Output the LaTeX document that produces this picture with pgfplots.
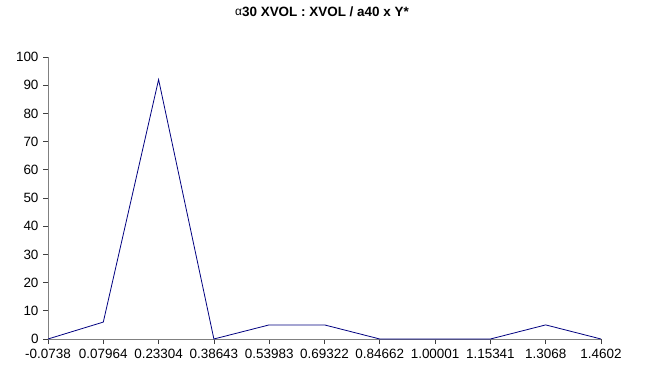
\documentclass[border=0pt]{standalone}
\usepackage{pgfplots}
\pgfplotsset{compat=1.18}
\usepackage{fontspec}
\setmainfont{Liberation Sans}
\definecolor{navy}{RGB}{0,0,128}
\definecolor{axgray}{RGB}{128,128,128}
\begin{document}
\begin{tikzpicture}
\path[use as bounding box] (-48bp,-33bp) rectangle (599bp,339bp);
\begin{axis}[
  at={(0,0)}, anchor=south west,
  scale only axis, width=553bp, height=282bp,
  xmin=0, xmax=10, ymin=0, ymax=100,
  axis x line=bottom, axis y line=left,
  axis line style={-, axgray, line width=0.9pt},
  tick style={black!75, line width=0.8pt},
  tick align=outside, major tick length=5bp,
  xtick={0,...,10},
  xticklabels={-0.0738,0.07964,0.23304,0.38643,0.53983,0.69322,0.84662,1.00001,1.15341,1.3068,1.4602},
  ytick={0,10,...,100},
  ticklabel style={font=\fontsize{13.5}{15}\selectfont, text=black},
  /pgf/number format/assume math mode=true,
  xticklabel style={yshift=-2bp},
  yticklabel style={xshift=-1bp},
  clip=false,
]
\addplot[navy, line width=0.8pt, mark=none] coordinates {
(0,0) (1,6) (2,92) (3,0) (4,5) (5,5) (6,0) (7,0) (8,0) (9,5) (10,0)
};
\end{axis}
\node[font=\bfseries\fontsize{13.5}{15}\selectfont, anchor=center] at (274bp,327bp) {\raisebox{1.5pt}{\normalfont\fontsize{12}{14}\selectfont α}30 XVOL : XVOL / a40 x Y*};
\end{tikzpicture}
\end{document}
